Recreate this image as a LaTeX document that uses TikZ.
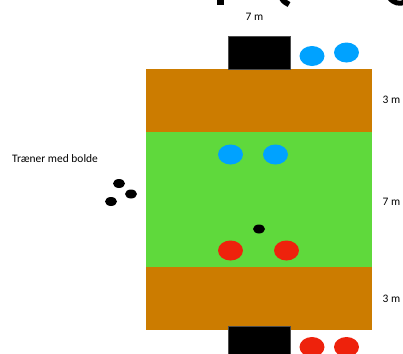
\documentclass[tikz,border=0pt]{standalone}
\usepackage{fontspec}
\setmainfont{Carlito}
\definecolor{court}{RGB}{204,124,0}
\definecolor{grass}{RGB}{95,217,60}
\definecolor{bluep}{RGB}{0,162,255}
\definecolor{redp}{RGB}{238,34,12}
\tikzset{
  lbl/.style={font=\fontsize{11.5}{13}\selectfont, inner sep=0pt},
  goal/.style={fill=black, draw=black!70, line width=0.6bp},
  player/.style={ellipse, minimum width=25bp, minimum height=20bp, inner sep=0pt},
  ball/.style={ellipse, fill=black, minimum width=12bp, minimum height=9bp, inner sep=0pt},
}
\usetikzlibrary{shapes.geometric}
\begin{document}
\begin{tikzpicture}[x=1bp,y=-1bp]
\useasboundingbox (0,0) rectangle (403,354);
\begin{scope}
\clip (0,0) rectangle (403,354);
% title fragments
\fill (217,-2) rectangle (223.5,4.5);
\draw[line width=5.5bp] (281,-4) .. controls (283,1) .. (289,4.5);
\draw[line width=5bp] (389,-3) .. controls (393,3.5) and (400,4.5) .. (405,2);
% zones
\fill[court] (146,69) rectangle (372,132);
\fill[grass] (146,132) rectangle (372,267);
\fill[court] (146,267) rectangle (372,330);
% goals
\draw[goal] (228,36) rectangle (290,69);
\draw[goal] (228,326) rectangle (290,360);
% players
\node[player, fill=bluep] (b1) at (312,56) {};
\node[player, fill=bluep] (b2) at (346.5,52.5) {};
\node[player, fill=bluep] (b3) at (230.5,154.5) {};
\node[player, fill=bluep] (b4) at (275.5,154.5) {};
\node[player, fill=redp] (r1) at (230.5,250.5) {};
\node[player, fill=redp] (r2) at (286.5,250.5) {};
\node[player, fill=redp] (r3) at (312,347) {};
\node[player, fill=redp] (r4) at (346.5,347) {};
% balls
\node[ball] (k1) at (119,183.5) {};
\node[ball] (k2) at (131,194) {};
\node[ball] (k3) at (111,201.5) {};
\node[ball] (k4) at (259,229) {};
\end{scope}
% labels
\node[lbl] (t1) at (254.5,17) {7 m};
\node[lbl] (t2) at (391.5,100) {3 m};
\node[lbl] (t3) at (391.5,202) {7 m};
\node[lbl] (t4) at (391.5,299) {3 m};
\node[lbl, anchor=west] (tr) at (12,159) {Træner med bolde};
\end{tikzpicture}
\end{document}
